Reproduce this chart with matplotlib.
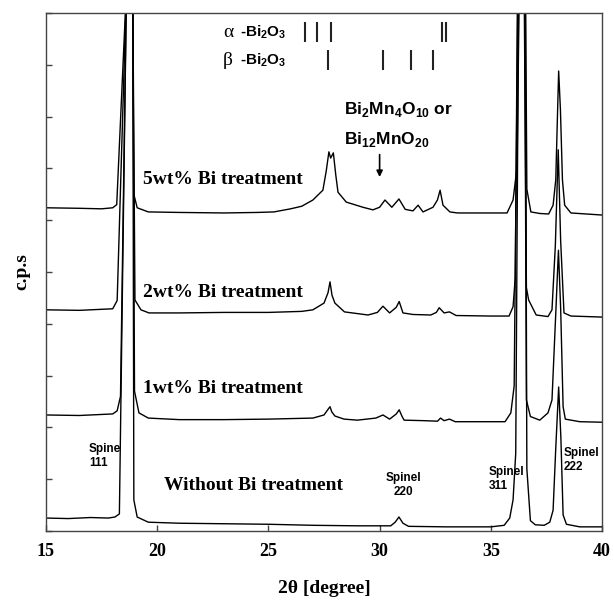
import matplotlib
matplotlib.use('Agg')
import matplotlib.pyplot as plt

plt.rcParams['mathtext.fontset'] = 'custom'
plt.rcParams['mathtext.rm'] = 'Liberation Sans'
plt.rcParams['mathtext.bf'] = 'Liberation Sans:bold'

# Curvas XRD (2theta, c.p.s desplazadas)
wo_x = [15.0, 16.0, 17.0, 17.8, 18.1, 18.3, 18.62, 18.75, 18.9, 18.95, 19.1, 19.6, 21.0, 23.0, 25.0, 27.0,
        29.0, 30.5, 30.7, 30.87, 31.05, 31.3, 33.0, 35.0, 35.6, 35.85, 36.0, 36.12, 36.25, 36.4, 36.55,
        36.62, 36.78, 37.0, 37.4, 37.65, 37.8, 37.92, 38.05, 38.15, 38.25, 38.4, 39.0, 40.0]
wo_y = [0.25, 0.24, 0.26, 0.25, 0.27, 0.33, 10.5, 12.0, 10.5, 0.6, 0.27, 0.17, 0.15, 0.14, 0.13, 0.11,
        0.10, 0.10, 0.17, 0.27, 0.15, 0.09, 0.08, 0.08, 0.11, 0.25, 0.6, 1.5, 10.5, 12.0, 10.5,
        1.2, 0.2, 0.12, 0.11, 0.17, 0.4, 1.6, 2.78, 1.8, 0.31, 0.13, 0.08, 0.08]

w1_x = [15.0, 16.5, 17.5, 18.0, 18.2, 18.35, 18.62, 18.75, 18.9, 18.98, 19.18, 19.6, 21.0, 23.0, 25.0,
        27.0, 27.5, 27.7, 27.77, 27.85, 27.99, 28.4, 29.0, 29.83, 30.15, 30.45, 30.75, 30.88, 31.0, 31.1,
        32.0, 32.6, 32.74, 32.9, 33.14, 33.4, 35.0, 35.64, 35.9, 36.05, 36.22, 36.38, 36.52, 36.6, 36.78,
        37.2, 37.57, 37.75, 37.92, 38.04, 38.14, 38.25, 38.35, 39.0, 40.0]
w1_y = [2.24, 2.23, 2.25, 2.26, 2.32, 2.6, 10.5, 12.0, 10.5, 2.7, 2.28, 2.18, 2.15, 2.15, 2.16,
        2.18, 2.24, 2.36, 2.40, 2.3, 2.22, 2.16, 2.14, 2.18, 2.24, 2.16, 2.26, 2.34, 2.22, 2.14,
        2.13, 2.12, 2.18, 2.13, 2.16, 2.11, 2.11, 2.11, 2.28, 2.8, 10.5, 12.0, 10.5, 2.53, 2.21,
        2.14, 2.28, 2.53, 4.2, 5.42, 4.3, 2.4, 2.16, 2.11, 2.10]

w2_x = [15.0, 16.5, 17.5, 18.0, 18.2, 18.62, 18.75, 18.9, 19.0, 19.27, 19.63, 21.0, 23.0, 25.0, 26.5,
        27.0, 27.5, 27.68, 27.77, 27.86, 27.99, 28.42, 29.48, 29.9, 30.15, 30.45, 30.75, 30.88, 31.05,
        31.5, 32.3, 32.55, 32.68, 32.9, 33.14, 33.44, 35.0, 35.82, 36.0, 36.1, 36.2, 36.36, 36.5, 36.6,
        36.7, 37.04, 37.57, 37.75, 37.9, 38.03, 38.14, 38.29, 38.6, 40.0]
w2_y = [4.27, 4.26, 4.28, 4.29, 4.45, 10.5, 12.0, 10.5, 4.46, 4.27, 4.21, 4.21, 4.22, 4.22, 4.24,
        4.27, 4.40, 4.6, 4.81, 4.55, 4.40, 4.23, 4.17, 4.22, 4.34, 4.21, 4.32, 4.43, 4.21,
        4.18, 4.17, 4.22, 4.31, 4.21, 4.23, 4.16, 4.15, 4.15, 4.33, 4.9, 10.5, 12.0, 10.5, 4.7,
        4.46, 4.17, 4.14, 4.27, 5.5, 7.36, 5.6, 4.21, 4.15, 4.13]

w5_x = [15.0, 16.5, 17.5, 18.0, 18.18, 18.62, 18.75, 18.9, 18.95, 19.1, 19.6, 21.0, 23.0, 24.5, 25.25,
        26.0, 26.5, 27.0, 27.45, 27.6, 27.72, 27.8, 27.92, 28.03, 28.13, 28.5, 29.25, 29.7, 30.0, 30.24,
        30.55, 30.87, 31.15, 31.5, 31.73, 31.95, 32.4, 32.6, 32.72, 32.85, 33.16, 33.5, 35.0, 35.73,
        36.0, 36.18, 36.28, 36.42, 36.56, 36.62, 36.8, 37.2, 37.6, 37.8, 37.92, 38.05, 38.13, 38.22,
        38.32, 38.6, 40.0]
w5_y = [6.24, 6.23, 6.22, 6.24, 6.3, 10.5, 12.0, 10.5, 6.5, 6.24, 6.16, 6.15, 6.14, 6.15, 6.16,
        6.22, 6.27, 6.39, 6.58, 6.95, 7.32, 7.2, 7.30, 6.87, 6.54, 6.35, 6.25, 6.2, 6.25, 6.39,
        6.25, 6.41, 6.21, 6.18, 6.29, 6.16, 6.25, 6.39, 6.58, 6.29, 6.16, 6.14, 6.14, 6.14,
        6.39, 7.03, 10.5, 12.0, 10.5, 6.6, 6.16, 6.13, 6.12, 6.29, 6.78, 8.88, 8.13, 6.78,
        6.29, 6.14, 6.10]

# Marcas de referencia Bi2O3 (2theta)
alpha_pos = [26.66, 27.17, 27.8, 32.82, 32.97]
beta_pos = [27.7, 30.17, 31.4, 32.42]

serif = 'Liberation Serif'
sans = 'Liberation Sans'

fig = plt.figure(figsize=(6.14, 6.0), dpi=100)
ax = fig.add_axes([0.0749, 0.115, 0.9056, 0.8633])

for xs, ys in [(wo_x, wo_y), (w1_x, w1_y), (w2_x, w2_y), (w5_x, w5_y)]:
    ax.plot(xs, ys, color='black', lw=1.0)

ax.vlines(alpha_pos, 9.44, 9.83, color='#222222', lw=1.5)
ax.vlines(beta_pos, 8.90, 9.29, color='#222222', lw=1.5)

# Etiquetas de fases
ax.text(22.96, 9.63, '\u03b1', family=serif, fontsize=14, va='center')
ax.text(23.72, 9.63, r'-Bi$_\mathbf{2}$O$_\mathbf{3}$', family=sans, fontweight='bold', fontsize=11, va='center')
ax.text(22.96, 9.09, '\u03b2', family=serif, fontsize=14, va='center')
ax.text(23.72, 9.09, r'-Bi$_\mathbf{2}$O$_\mathbf{3}$', family=sans, fontweight='bold', fontsize=11, va='center')

ax.text(28.4, 8.13, r'Bi$_\mathbf{2}$Mn$_\mathbf{4}$O$_\mathbf{10}$ or', family=sans, fontweight='bold',
        fontsize=12.5, va='center')
ax.text(28.4, 7.55, r'Bi$_\mathbf{12}$MnO$_\mathbf{20}$', family=sans, fontweight='bold', fontsize=12.5,
        va='center')
ax.annotate('', xy=(30.0, 6.78), xytext=(30.0, 7.32),
            arrowprops=dict(arrowstyle='-|>', color='black', lw=1.2, mutation_scale=9))

# Nombres de muestras
ax.text(19.36, 6.78, '5wt% Bi treatment', family=serif, fontweight='bold', fontsize=14, va='center')
ax.text(19.36, 4.61, '2wt% Bi treatment', family=serif, fontweight='bold', fontsize=14, va='center')
ax.text(19.36, 2.76, '1wt% Bi treatment', family=serif, fontweight='bold', fontsize=14, va='center')
ax.text(20.3, 0.87, 'Without Bi treatment', family=serif, fontweight='bold', fontsize=14, va='center')

# Indices spinel
ax.text(16.93, 1.45, 'Spine\n111', family=sans, fontweight='bold', fontsize=8.5, va='center', linespacing=1.25)
ax.text(31.05, 0.89, 'Spinel\n220', family=sans, fontweight='bold', fontsize=8.5, va='center', ha='center',
        linespacing=1.25)
ax.text(34.92, 1.01, 'Spinel\n311', family=sans, fontweight='bold', fontsize=8.5, va='center', linespacing=1.25)
ax.text(38.29, 1.37, 'Spinel\n222', family=sans, fontweight='bold', fontsize=8.5, va='center', linespacing=1.25)

ax.set_xlim(15, 40)
ax.set_ylim(0, 10)
ax.set_xticks([15, 20, 25, 30, 35, 40])
ax.set_yticks(range(0, 11))
ax.set_yticklabels([])
ax.tick_params(direction='in', length=4, width=1, color='#444444')
ax.tick_params(axis='x', pad=9, labelsize=13)
for lab in ax.get_xticklabels():
    lab.set_family(serif)
    lab.set_fontweight('bold')
for sp in ax.spines.values():
    sp.set_color('#444444')
    sp.set_linewidth(1.0)

ax.set_xlabel('2\u03b8 [degree]', family=serif, fontweight='bold', fontsize=14, labelpad=14)
ax.set_ylabel('c.p.s', family=serif, fontweight='bold', fontsize=14, labelpad=8)

plt.savefig('out.png', dpi=100)
